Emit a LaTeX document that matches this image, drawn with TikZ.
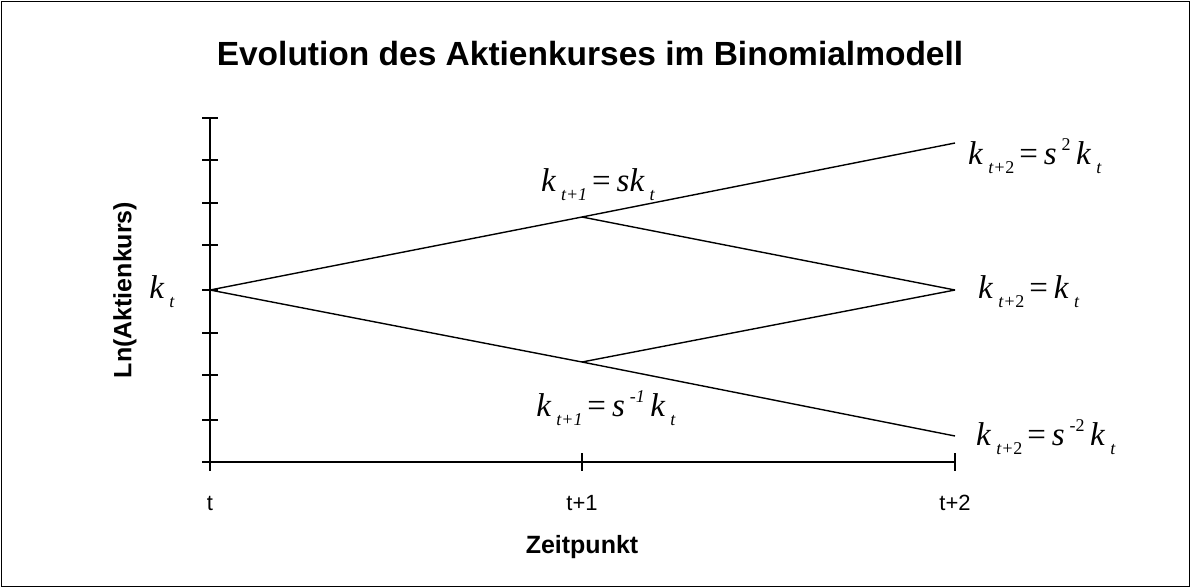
\documentclass[tikz,border=0pt]{standalone}
\usepackage{fontspec}
\setmainfont{Liberation Serif}
\setsansfont{Liberation Sans}
\newcommand{\sbx}[1]{\hspace{0.15em}\raisebox{-0.28em}{\fontsize{18}{18}\selectfont #1}}
\newcommand{\spx}[1]{\hspace{0.15em}\raisebox{0.42em}{\fontsize{18}{18}\selectfont #1}}
\newcommand{\kt}{\textit{k}\sbx{\textit{t}}}
\newcommand{\eqs}{\hspace{0.15em}=\hspace{0.18em}}
\begin{document}
\begin{tikzpicture}[x=1pt,y=-1pt,
  axis/.style={line width=1.3pt},
  branch/.style={line width=1.4pt},
  tick/.style={line width=1.2pt},
  mlabel/.style={font=\fontsize{33}{35}\selectfont, inner sep=0pt},
  alabel/.style={font=\sffamily\fontsize{22}{24}\selectfont, inner sep=0pt},
  blabel/.style={font=\sffamily\bfseries\fontsize{25}{27}\selectfont, inner sep=0pt}]
\useasboundingbox (0,0) rectangle (1190,587);
\draw[line width=1pt] (1,1) rectangle (1189,586);
\node[font=\sffamily\bfseries\fontsize{33.5}{36}\selectfont] (title) at (590,54) {Evolution des Aktienkurses im Binomialmodell};
% axes
\coordinate (o) at (210,462);
\coordinate (ytop) at (210,118);
\coordinate (xend) at (955,462);
\draw[axis] (ytop) -- (o) -- (xend);
\foreach \y in {118,160,203,245,290,333,375,420,462}
  \draw[tick] (202,\y) -- (218,\y);
\foreach \x in {210,582,955}
  \draw[tick] (\x,453) -- (\x,471);
% tree
\coordinate (a) at (210,290);
\coordinate (bu) at (582,217);
\coordinate (bd) at (582,362);
\coordinate (cu) at (955,143);
\coordinate (cm) at (955,290);
\coordinate (cd) at (955,436);
\draw[branch] (a) -- (bu) -- (cu);
\draw[branch] (bu) -- (cm);
\draw[branch] (a) -- (bd) -- (cd);
\draw[branch] (bd) -- (cm);
% labels
\node[mlabel] (la) at (162,292) {\kt};
\node[mlabel] (lbu) at (598,185) {\textit{k}\sbx{\textit{t+1}}\eqs\textit{sk}\sbx{\textit{t}}};
\node[mlabel] (lbd) at (606,408) {\textit{k}\sbx{\textit{t+1}}\eqs\textit{s}\spx{\textit{-1}}\,\textit{k}\sbx{\textit{t}}};
\node[mlabel, anchor=west] (lcu) at (968,156) {\textit{k}\sbx{\textit{t+}2}\eqs\textit{s}\spx{2}\,\textit{k}\sbx{\textit{t}}};
\node[mlabel, anchor=west] (lcm) at (978,292) {\textit{k}\sbx{\textit{t+}2}\eqs\textit{k}\sbx{\textit{t}}};
\node[mlabel, anchor=west] (lcd) at (976,437) {\textit{k}\sbx{\textit{t+}2}\eqs\textit{s}\spx{-2}\,\textit{k}\sbx{\textit{t}}};
\node[alabel] (t0) at (210,503) {t};
\node[alabel] (t1) at (582,503) {t+1};
\node[alabel] (t2) at (955,503) {t+2};
\node[blabel] (xl) at (582,547) {Zeitpunkt};
\node[blabel, rotate=90] (yl) at (125,290) {Ln(Aktienkurs)};
\end{tikzpicture}
\end{document}
